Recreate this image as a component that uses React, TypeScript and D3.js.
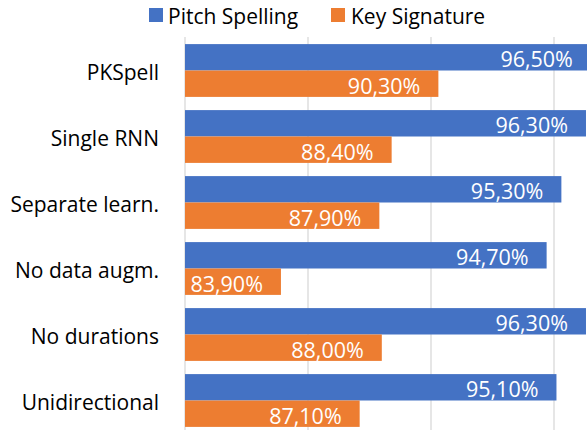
import * as d3 from "d3";

const categories = ["PKSpell", "Single RNN", "Separate learn.", "No data augm.", "No durations", "Unidirectional"];
const pitchSpelling = [96.5, 96.3, 95.3, 94.7, 96.3, 95.1];
const keySignature = [90.3, 88.4, 87.9, 83.9, 88.0, 87.1];
const seriesNames = ["Pitch Spelling", "Key Signature"];
const colors = ["#4472C4", "#ED7D31"];
const gridTicks = [80, 85, 90, 95, 100];

const W = 587;
const H = 430;
const font = "'Open Sans', sans-serif";

const fmt = (v: number) => v.toFixed(2).replace(".", ",") + "%";

export default function App() {
    const x = d3.scaleLinear().domain([80, 100]).range([185, 677]);
    const y = d3.scaleBand().domain(categories).range([37.5, 433.5]).paddingInner(0.2).paddingOuter(0.1);
    const sub = d3.scaleBand().domain(seriesNames).range([0, y.bandwidth()]);
    const series = [pitchSpelling, keySignature];

    return (
        <svg width={W} height={H} style={{position: "absolute", left: 0, top: 0}} fontFamily={font}>
            <rect width={W} height={H} fill="#fff" />
            {gridTicks.map(t => (
                <line key={t} x1={x(t)} x2={x(t)} y1={37} y2={H} stroke="#D9D9D9" strokeWidth={1.3} />
            ))}
            {categories.map((c, i) => (
                <g key={c}>
                    <text x={159} y={(y(c) ?? 0) + y.bandwidth() / 2 + 1} textAnchor="end" dominantBaseline="central"
                          fontSize={21} fill="#000">{c}</text>
                    {series.map((vals, s) => {
                        const by = (y(c) ?? 0) + (sub(seriesNames[s]) ?? 0);
                        return (
                            <g key={s}>
                                <rect x={x(80)} y={by} width={x(vals[i]) - x(80)} height={sub.bandwidth()}
                                      fill={colors[s]} />
                                <text x={x(vals[i]) - 18} y={by + sub.bandwidth() / 2 + 1.5} textAnchor="end"
                                      dominantBaseline="central" fontSize={21.5} fill="#fff">{fmt(vals[i])}</text>
                            </g>
                        );
                    })}
                </g>
            ))}
            <g>
                <rect x={149} y={8} width={14} height={14} fill={colors[0]} />
                <text x={168} y={15.5} dominantBaseline="central" fontSize={21}>{seriesNames[0]}</text>
                <rect x={331} y={8} width={14} height={14} fill={colors[1]} />
                <text x={351} y={15.5} dominantBaseline="central" fontSize={21}>{seriesNames[1]}</text>
            </g>
        </svg>
    );
}
